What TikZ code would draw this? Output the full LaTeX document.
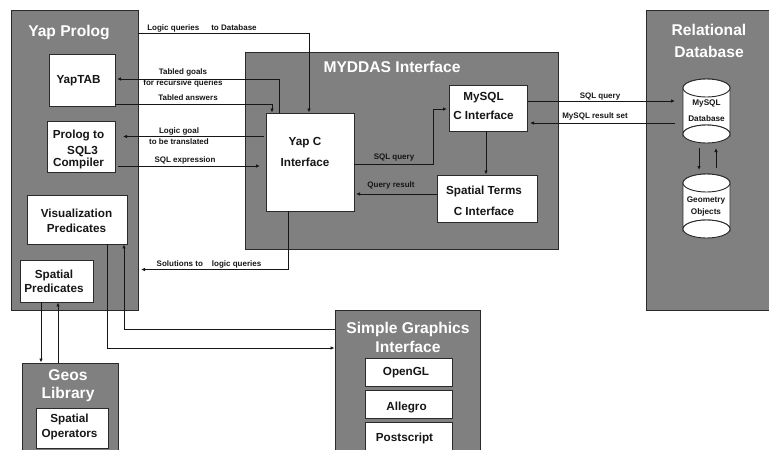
\documentclass[tikz,border=0pt]{standalone}
\usepackage{fontspec}
\setmainfont{Liberation Sans}
\usetikzlibrary{arrows.meta,calc}
\definecolor{panelgrey}{HTML}{808080}
\definecolor{edgegrey}{HTML}{2A2A2A}
\definecolor{inkblack}{HTML}{161616}
\tikzset{
  panel/.style={draw=edgegrey,line width=0.9pt,fill=panelgrey,inner sep=0pt},
  inbox/.style={draw=edgegrey,line width=0.9pt,fill=white,inner sep=0pt,align=center,font=\bfseries\fontsize{11.7}{15}\selectfont,text=inkblack},
  paneltitle/.style={font=\bfseries\fontsize{15.6}{22}\selectfont,text=white,align=center,inner sep=0pt},
  linklabel/.style={font=\bfseries\fontsize{8}{10.8}\selectfont,text=inkblack,align=center,inner sep=0pt},
  cyltext/.style={font=\bfseries\fontsize{8.2}{15}\selectfont,text=inkblack,align=center,inner sep=0pt},
  link/.style={draw=inkblack,line width=0.8pt,-{Latex[length=4pt,width=3.5pt]}},
}
% shift the text of a box from its centre: dx, dy (upward), lines
\newcommand{\nudge}[3]{\makebox[0pt]{\kern\dimexpr 2\dimexpr#1\relax\relax\raisebox{\dimexpr#2-0.25em-2pt\relax}[0pt][0pt]{\begin{tabular}{@{}c@{}}#3\end{tabular}}}}
\newcommand{\cylshape}[3]{% name, top y, bottom y
  \path[draw=edgegrey,line width=0.9pt,fill=white]
    (683,#2+9) arc[x radius=23.5,y radius=9,start angle=180,end angle=360]
    -- (730,#3-9) arc[x radius=23.5,y radius=9,start angle=0,end angle=-180] -- cycle;
  \path[draw=edgegrey,line width=0.9pt,fill=white]
    (683,#2+9) arc[x radius=23.5,y radius=9,start angle=180,end angle=-180];
  \path[draw=edgegrey,line width=0.9pt,fill=white]
    (683,#3-9) arc[x radius=23.5,y radius=9,start angle=180,end angle=-180];
  \coordinate (#1) at (706.5,{(#2+#3)/2});
}
\begin{document}
\begin{tikzpicture}[x=1pt,y=-1pt]
\useasboundingbox (0,0) rectangle (769,450);
% panels
\node[panel,minimum width=127pt,minimum height=300pt] (prolog) at (74.5,160) {};
\node[panel,minimum width=313pt,minimum height=197pt] (myddas) at (401.5,150.5) {};
\node[panel,minimum width=130pt,minimum height=300pt] (reldb) at (711,160) {};
\node[panel,minimum width=96pt,minimum height=100pt] (geos) at (70,413) {};
\node[panel,minimum width=145pt,minimum height=150pt] (graphics) at (407.5,385) {};
% panel titles
\node[paneltitle] (tprolog) at (69,32) {Yap Prolog};
\node[paneltitle] (tmyddas) at (392,67) {MYDDAS Interface};
\node[paneltitle] (treldb) at (709,41) {Relational\\Database};
\node[paneltitle] (tgeos) at (68,386) {Geos\\[-4pt]Library};
\node[paneltitle] (tgraphics) at (408,337.5) {Simple Graphics\\[-3pt]Interface};
% inner boxes
\node[inbox,minimum width=66pt,minimum height=52pt] (yaptab) at (82,80) {\nudge{-3.5pt}{1pt}{YapTAB}};
\node[inbox,minimum width=68pt,minimum height=51pt] (compiler) at (81,146.5) {\nudge{-2.5pt}{-1.5pt}{Prolog to\\[1pt]\hspace*{8pt}SQL3\\[-3pt]Compiler}};
\node[inbox,minimum width=100pt,minimum height=49pt] (vis) at (77,219.5) {\nudge{-0.5pt}{-1pt}{Visualization\\Predicates}};
\node[inbox,minimum width=73pt,minimum height=42pt] (spatial) at (56.5,281) {\nudge{-2.5pt}{0pt}{Spatial\\[-1pt]Predicates}};
\node[inbox,minimum width=88pt,minimum height=98pt] (yapc) at (310,162) {\nudge{-5pt}{10.5pt}{Yap C\\[6pt]Interface}};
\node[inbox,minimum width=78pt,minimum height=46pt] (mysqlc) at (488,108) {\nudge{-4.5pt}{2.5pt}{MySQL\\[4pt]C Interface}};
\node[inbox,minimum width=100pt,minimum height=47pt] (terms) at (487,198.5) {\nudge{-3pt}{-2pt}{Spatial Terms\\[6pt]C Interface}};
\node[inbox,minimum width=72pt,minimum height=40pt] (operators) at (72,428) {\nudge{-2.5pt}{2.5pt}{Spatial\\Operators}};
\node[inbox,minimum width=87pt,minimum height=28pt] (opengl) at (408.5,372.5) {\nudge{-2.5pt}{1.5pt}{OpenGL}};
\node[inbox,minimum width=87pt,minimum height=28pt] (allegro) at (408.5,404) {\nudge{-2pt}{-1.5pt}{Allegro}};
\node[inbox,minimum width=87pt,minimum height=28pt] (postscript) at (408.5,436) {\nudge{-4pt}{-0.5pt}{Postscript}};
% cylinders
\cylshape{dbcyl}{79}{143}
\cylshape{geocyl}{174}{238}
\node[cyltext] (dbtext) at (706.5,111) {MySQL\\[1pt]Database};
\node[cyltext] (geotext) at (706,206.5) {Geometry\\[-3pt]Objects};
% connectors
\draw[link] (prolog.east |- 0,33) -- (309,33) -- (yapc.north -| 309,0);
\draw[link] (yapc.north -| 279,0) -- (279,79) -- (117,79);
\draw[link] (yaptab.east |- 0,104) -- (272,104) -- (yapc.north -| 272,0);
\draw[link] (264,136.5) -- (123,136.5);
\draw[link] (118,166) -- (260,166);
\draw[link] (yapc.south -| 288,0) -- (288,269.5) -- (141,269.5);
\draw[link] (yapc.east |- 0,164.5) -- (433,164.5) -- (433,109) -- (447,109);
\draw[link] (terms.west |- 0,194) -- (356,194);
\draw[link] (mysqlc.south -| 486,0) -- (terms.north -| 486,0);
\draw[link] (528,101) -- (675,101);
\draw[link] (675,123) -- (530,123);
\draw[link] (699,148) -- (699,170);
\draw[link] (716,168) -- (716,148);
\draw[link] (vis.south -| 107,0) -- (107,348) -- (graphics.west |- 0,348);
\draw[link] (graphics.west |- 0,329) -- (124,329) -- (vis.south -| 124,0);
\draw[link] (spatial.south -| 41,0) -- (geos.north -| 41,0);
\draw[link] (geos.north -| 58,0) -- (spatial.south -| 58,0);
% connector labels
\node[linklabel] (l1) at (202,28.5) {Logic queries\hspace{12pt}to Database};
\node[linklabel] (l2) at (183,78) {Tabled goals\\for recursive queries};
\node[linklabel] (l3) at (188,97.5) {Tabled answers};
\node[linklabel] (l4) at (179,136) {Logic goal\\to be translated};
\node[linklabel] (l5) at (185,160) {SQL expression};
\node[linklabel] (l6) at (209,264) {Solutions to\hspace{9pt}logic queries};
\node[linklabel] (l7) at (394,158) {SQL query};
\node[linklabel] (l8) at (391,185.5) {Query result};
\node[linklabel] (l9) at (600,96.5) {SQL query};
\node[linklabel] (l10) at (595,116) {MySQL result set};
\end{tikzpicture}
\end{document}
